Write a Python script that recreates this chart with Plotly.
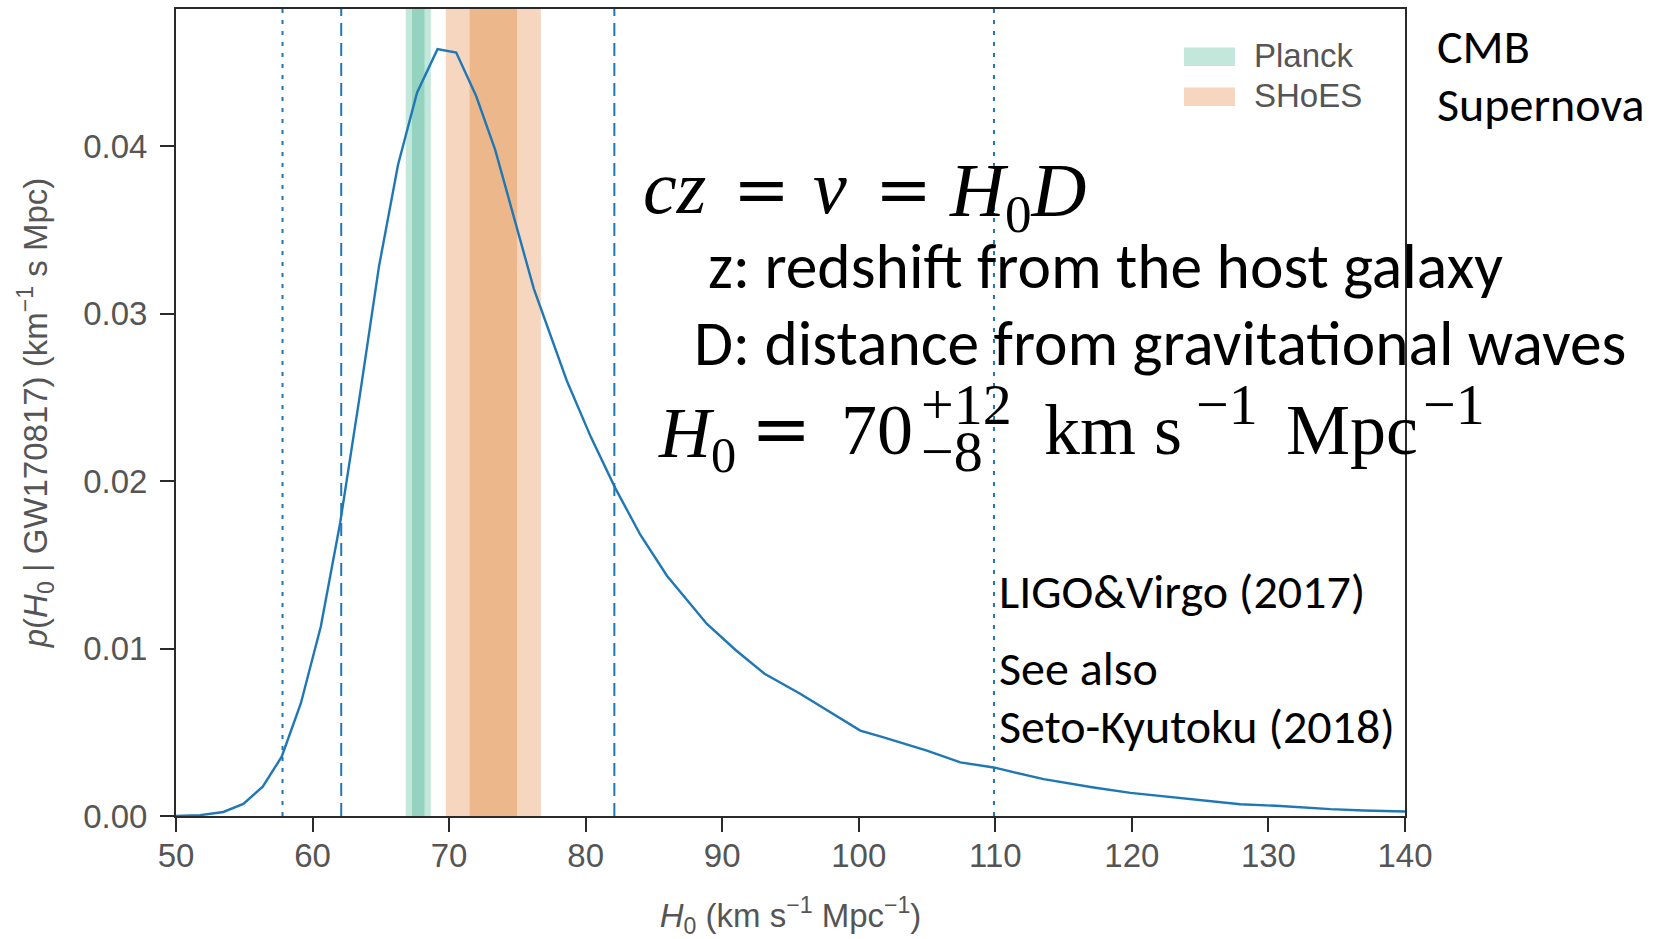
import plotly.graph_objects as go

# ---------------- data ----------------
h0_values = [50.0, 51.76, 53.47, 54.93, 56.35, 57.74, 59.14, 60.6, 62.02, 63.44,
             64.86, 66.26, 67.65, 69.15, 70.52, 71.98, 73.37, 74.9, 76.2, 78.62,
             80.4, 82.16, 84.0, 85.95, 88.88, 91.0, 93.1, 95.71, 97.67, 100.11,
             101.82, 104.99, 107.44, 109.88, 113.54, 117.2, 119.9, 123.06, 124.77,
             127.94, 130.88, 134.54, 136.98, 140.0]
posterior = [0.0, 0.00005, 0.00024, 0.00072, 0.00175, 0.00354, 0.00672, 0.0113, 0.0175, 0.0250,
             0.0328, 0.0389, 0.0432, 0.0458, 0.0456, 0.0430, 0.0398, 0.0353, 0.0315, 0.0260,
             0.0226, 0.0196, 0.0168, 0.01435, 0.01147, 0.0099, 0.0085, 0.0073, 0.0063, 0.0051,
             0.0047, 0.0039, 0.0032, 0.0029, 0.0022, 0.0017, 0.00138, 0.0011, 0.00098,
             0.0007, 0.0006, 0.00041, 0.00033, 0.00027]

planck_2sigma = [66.82, 68.66]
planck_1sigma = [67.28, 68.20]
shoes_2sigma = [69.76, 76.72]
shoes_1sigma = [71.50, 74.98]
interval_68 = [62.1, 82.1]     # dashed
interval_95 = [57.8, 109.9]    # dotted

x_ticks = [50, 60, 70, 80, 90, 100, 110, 120, 130, 140]
y_ticks = [0.0, 0.01, 0.02, 0.03, 0.04]
y_ticklabels = ["0.00", "0.01", "0.02", "0.03", "0.04"]
legend_labels = ["Planck", "SHoES"]

# ---------------- styling ----------------
W, H = 1660, 939
ML, MR, MT, MB = 176, 255, 9, 123
PW, PH = W - ML - MR, H - MT - MB

LINE = "#1f77b4"
AX = "#2a2a2a"
GRAY = "#555555"
PLANCK_OUT, PLANCK_IN = "#c3e7db", "#94d3bf"
SHOES_OUT, SHOES_IN = "#f7d6c0", "#edb78c"
SANS = "Liberation Sans, Arial, sans-serif"
CAL = "Carlito, Calibri, Lato, sans-serif"
SERIF = "Liberation Serif, Times New Roman, serif"
MATHEQ = "DejaVu Serif, serif"

# baseline offset below the annotation centre, in em, per family
OFF = {CAL: 0.305, SERIF: 0.3375, MATHEQ: 0.346, SANS: 0.3465}


def xp(px):
    return (px - ML) / PW


def yp(py):
    return (H - MB - py) / PH


fig = go.Figure()

shapes = []
for (a, b), col in [(planck_2sigma, PLANCK_OUT), (planck_1sigma, PLANCK_IN),
                    (shoes_2sigma, SHOES_OUT), (shoes_1sigma, SHOES_IN)]:
    shapes.append(dict(type="rect", xref="x", yref="paper", x0=a, x1=b, y0=0, y1=1,
                       fillcolor=col, line=dict(width=0), layer="below"))
for v in interval_68:
    shapes.append(dict(type="line", xref="x", yref="paper", x0=v, x1=v, y0=0, y1=1,
                       line=dict(color=LINE, width=2, dash="13px,7px"), layer="above"))
for v in interval_95:
    shapes.append(dict(type="line", xref="x", yref="paper", x0=v, x1=v, y0=0, y1=1,
                       line=dict(color=LINE, width=2, dash="4px,7px"), layer="above"))

# legend swatches (manual legend)
for i, col in enumerate([PLANCK_OUT, SHOES_OUT]):
    top = 47.5 + i * 40
    shapes.append(dict(type="rect", xref="paper", yref="paper",
                       x0=xp(1184), x1=xp(1235), y0=yp(top + 18.5), y1=yp(top),
                       fillcolor=col, line=dict(width=0), layer="above"))

fig.add_trace(go.Scatter(x=h0_values, y=posterior, mode="lines",
                         line=dict(color=LINE, width=2.4), showlegend=False,
                         hoverinfo="skip"))

ann = []


def text(s, left, baseline, size, family, color="black", dy=0.0):
    centre = baseline - OFF[family] * size + dy
    ann.append(dict(text=s, xref="paper", yref="paper", x=xp(left), y=yp(centre),
                    xanchor="left", yanchor="middle", showarrow=False,
                    font=dict(size=size, family=family, color=color)))


# legend labels
for i, lab in enumerate(legend_labels):
    text(lab, 1252, 67 + i * 40, 33, SANS, GRAY)

# formula line 1: cz = v = H0 D
fs = 76
text("<i>cz</i>", 641, 213, fs, SERIF)
text("=", 731, 213, 68, MATHEQ)
text("<i>v</i>", 811, 213, fs, SERIF)
text("=", 873, 213, 68, MATHEQ)
text("<i>H</i><sub>0</sub><i>D</i>", 947, 213, fs, SERIF, dy=9)

# explanatory lines
fc = 63.5
text("z: redshift from the host galaxy", 706, 286, fc, CAL)
text("D: distance from gravitational waves", 692, 362.5, fc, CAL)

# H0 result
fh = 72
fsup = 58
text("<i>H</i><sub>0</sub>", 656, 454, fh, SERIF, dy=8)
text("=", 749, 454, fh, MATHEQ)
text("70", 839, 454, fh, SERIF)
text("+12", 919, 424, fsup, SERIF)
text("\u22128", 919, 471, fsup, SERIF)
text("km s", 1042, 454, fh, SERIF)
text("\u22121", 1194, 424, fsup, SERIF)
text("Mpc", 1284, 454, fh, SERIF)
text("\u22121", 1421, 424, fsup, SERIF)

# side notes
fn = 48
text("CMB", 1435, 61.5, fn, CAL)
text("Supernova", 1435, 119.5, fn, CAL)
text("LIGO&amp;Virgo (2017)", 997, 606.5, fn, CAL)
text("See also", 997, 683.5, fn, CAL)
text("Seto-Kyutoku (2018)", 997, 741, fn, CAL)

axis_common = dict(showline=True, linewidth=2, linecolor=AX, mirror=True,
                   ticks="outside", ticklen=14, tickwidth=2, tickcolor=AX,
                   showgrid=False, zeroline=False, automargin=False,
                   tickfont=dict(size=33, family=SANS, color=GRAY))

fig.update_layout(
    width=W, height=H,
    margin=dict(l=ML, r=MR, t=MT, b=MB, autoexpand=False),
    plot_bgcolor="white", paper_bgcolor="white",
    shapes=shapes, annotations=ann, showlegend=False,
    xaxis=dict(range=[50, 140], tickvals=x_ticks, ticklabelstandoff=-5,
               title=dict(text="<i>H</i><sub>0</sub> (km s<sup>\u22121</sup> Mpc<sup>\u22121</sup>)",
                          font=dict(size=33, family=SANS, color=GRAY), standoff=31),
               **axis_common),
    yaxis=dict(range=[0, 0.0482], tickvals=y_ticks, ticktext=y_ticklabels,
               ticklabelstandoff=6,
               title=dict(text="<i>p</i>(<i>H</i><sub>0</sub> | GW170817) (km<sup>\u22121</sup> s Mpc)",
                          font=dict(size=33, family=SANS, color=GRAY), standoff=26),
               **axis_common),
)

fig.write_html("out.html")
